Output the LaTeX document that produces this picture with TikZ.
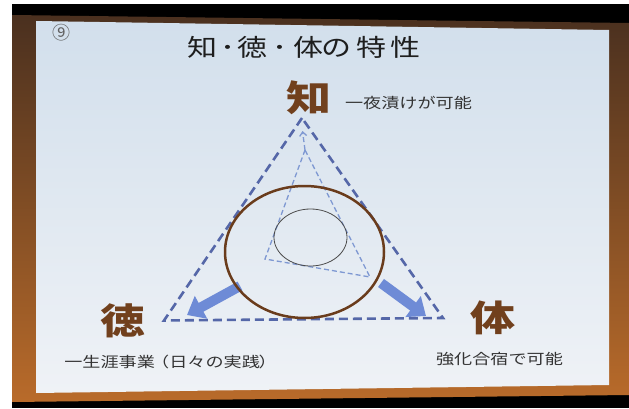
\documentclass[tikz,border=0pt]{standalone}
\usepackage{fontspec}
\usepackage{graphicx}
\newfontfamily\jp{Noto Sans CJK JP}
\usetikzlibrary{arrows.meta}
\newcommand{\stretchx}[1]{\scalebox{1.25}[1]{#1}}
\definecolor{frameTop}{HTML}{4A301F}
\definecolor{frameBot}{HTML}{B96B2A}
\definecolor{slideTop}{HTML}{D2DFEC}
\definecolor{slideBot}{HTML}{EFF2F6}
\definecolor{outerBlue}{HTML}{5567A8}
\definecolor{innerBlue}{HTML}{7E98D2}
\definecolor{arrowBlue}{HTML}{6E8BD6}
\definecolor{ringBrown}{HTML}{6A3C1C}
\definecolor{charBrown}{HTML}{71401D}
\definecolor{labelGrey}{HTML}{333333}
\definecolor{titleGrey}{HTML}{1E1E1E}
\tikzset{
  bigchar/.style={inner sep=0pt, anchor=base, text=charBrown, font=\jp\bfseries\fontsize{36}{36}\selectfont},
  labeltext/.style={inner sep=0pt, anchor=base, text=labelGrey, font=\jp\fontsize{14.5}{14.5}\selectfont},
  titletext/.style={inner sep=0pt, anchor=base, text=titleGrey, font=\jp\fontsize{24}{24}\selectfont},
  outertri/.style={draw=outerBlue, line width=2.6pt, dash pattern=on 9pt off 5pt, line join=miter},
  innertri/.style={draw=innerBlue, line width=1.3pt, dash pattern=on 5pt off 3pt},
  blockarrow/.style={draw=arrowBlue, line width=10pt, -{Triangle[length=16pt,width=25pt]}},
}
\begin{document}
\begin{tikzpicture}[x=1pt,y=1pt]
\useasboundingbox (0,0) rectangle (629,408);
% photo surroundings
\fill[white] (0,0) rectangle (629,408);
\fill[black] (12,0) rectangle (629,404);
\shade[top color=frameTop, bottom color=frameBot] (12,393) -- (629,385) -- (629,13) -- (12,6) -- cycle;
% slide
\shade[top color=slideTop, bottom color=slideBot] (36,387) -- (609,378) -- (609,23) -- (36,15) -- cycle;
% page number
\node[inner sep=0pt, text=gray!75!black, font=\jp\fontsize{18}{18}\selectfont] (num) at (61,375) {⑨};
% title
\node[titletext] (title) at (304,352) {\stretchx{知\kern2.4pt ･\kern1.6pt 徳\kern3.6pt ･\kern4.8pt 体\kern-1.5pt の\kern3.7pt 特\kern3.3pt 性}};
% big characters
\node[bigchar] (chi) at (308.5,297) {\stretchx{知}};
\node[bigchar] (toku) at (122.5,74) {\stretchx{徳}};
\node[bigchar] (tai) at (493,77) {\stretchx{体}};
% labels
\node[labeltext] (chiL) at (408.5,299.5) {\stretchx{一夜漬けが可能}};
\node[labeltext] (tokuL) at (170.5,40.5) {\stretchx{一生涯事業\kern-3pt（日々の実践\kern-1pt）}};
\node[labeltext] (taiL) at (499.5,44) {\stretchx{強化合宿で可能}};
% triangles
\coordinate (oA) at (302,290);
\coordinate (oL) at (164,87.5);
\coordinate (oR) at (443,90);
\coordinate (iA) at (305,258);
\coordinate (iL) at (265,149);
\coordinate (iR) at (370,131);
\coordinate (iTip) at (302.5,277);
\draw[outertri] (oA) -- (oL) -- (oR) -- cycle;
\draw[innertri] (iA) -- (iL) -- (iR) -- cycle;
\draw[innertri, -{Straight Barb[length=4pt,width=7pt]}] (iA) -- (iTip);
% block arrows
\coordinate (laT) at (240,122);
\coordinate (laH) at (187,93);
\coordinate (raT) at (381,125);
\coordinate (raH) at (426,92);
\draw[blockarrow] (laT) -- (laH);
\draw[blockarrow] (raT) -- (raH);
% ellipses
\coordinate (ringC) at (304.5,156);
\draw[ringBrown, line width=2.5pt] (ringC) ellipse [x radius=79.5, y radius=66];
\coordinate (coreC) at (310.5,170.5);
\draw[gray!60!black, line width=0.8pt] (coreC) ellipse [x radius=36.5, y radius=28.5];
\end{tikzpicture}
\end{document}
